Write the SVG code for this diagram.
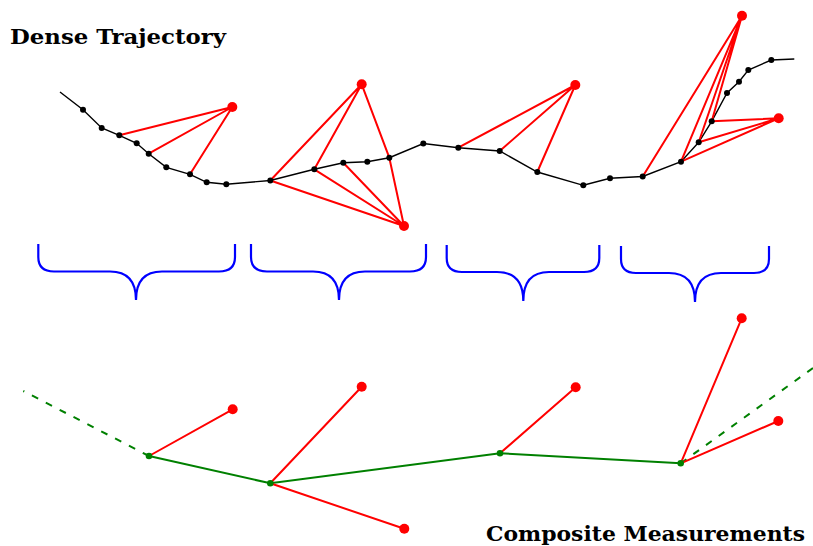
<svg xmlns="http://www.w3.org/2000/svg" width="813" height="546" viewBox="0 0 813 546">
<style>
.traj{fill:none;stroke:#000;stroke-width:1.4}
.red{stroke:#ff0000;stroke-width:2;fill:none}
.grn{stroke:#008000;stroke-width:2;fill:none}
.dash{stroke:#008000;stroke-width:2;fill:none;stroke-dasharray:7 8.6}
.brace{stroke:#0000ff;stroke-width:2.2;fill:none}
.bd{fill:#000}
.rd{fill:#ff0000}
.gd{fill:#008000}
.lbl{font-family:"DejaVu Serif","Liberation Serif",serif;font-weight:bold;font-size:20px;fill:#000}
</style>
<rect width="813" height="546" fill="#fff"/>
<text class="lbl" x="10" y="44" textLength="216" lengthAdjust="spacingAndGlyphs">Dense Trajectory</text>
<text class="lbl" x="486" y="541" textLength="319" lengthAdjust="spacingAndGlyphs">Composite Measurements</text>
<g id="connectors">
<polyline class="traj" points="60,92 83,109.7 101.7,128 119.3,135.3 136.7,143.3 148.7,153.7 166.3,167.3 190,174.3 206.7,182.3 226.3,184.3 270.3,180.5 314.3,169.3 343.3,162.7 367.3,161.7 389.3,157.7 423.3,143.5 458.3,147.7 499.7,151 537.3,172 583.3,185.3 610,178.3 642.7,176.5 681,161.7 698.7,142.3 711.7,121.3 727,93 739,81.7 748.3,70 771.3,60 794.3,59"/>
<path class="red" d="M232.3,107 L119.3,135.3 M232.3,107 L148.7,153.7 M232.3,107 L190,174.3"/>
<path class="red" d="M361.7,84.3 L270.3,180.5 M361.7,84.3 L314.3,169.3 M361.7,84.3 L389.3,157.7 M404,226 L270.3,180.5 M404,226 L314.3,169.3 M404,226 L343.3,162.7 M404,226 L389.3,157.7"/>
<path class="red" d="M575.3,85 L458.3,147.7 M575.3,85 L499.7,151 M575.3,85 L537.3,172"/>
<path class="red" d="M742,15.7 L642.7,176.5 M742,15.7 L681,161.7 M742,15.7 L698.7,142.3 M742,15.7 L711.7,121.3 M778.7,118.3 L681,161.7 M778.7,118.3 L698.7,142.3 M778.7,118.3 L711.7,121.3"/>
<path class="brace" d="M38.3,244 V257 Q38.3,271.5 54,271.5 H110 C127,271.5 136,280 136,300 C136,280 145,271.5 162,271.5 H219 Q235,271.5 235,257 V244"/>
<path class="brace" d="M251,244 V257 Q251,271.5 267,271.5 H313 C330,271.5 339,280 339,300 C339,280 348,271.5 365,271.5 H410 Q426,271.5 426,257 V244"/>
<path class="brace" d="M446.7,245 V258 Q446.7,272 462,272 H497 C514,272 523.3,281 523.3,301 C523.3,281 532,272 549,272 H584 Q599.3,272 599.3,258 V245"/>
<path class="brace" d="M621,246 V259 Q621,273 636,273 H669 C686,273 695,282 695,302 C695,282 704,273 721,273 H754 Q769,273 769,259 V246"/>
<path class="dash" d="M149,456 L23.3,391"/>
<path class="dash" d="M680.7,463.3 L813,368"/>
<polyline class="grn" points="149,456 270.3,483.3 500,453.3 680.7,463.3"/>
<path class="red" d="M149,456 L232.7,409.3 M270.3,483.3 L361.7,386.7 M270.3,483.3 L404.3,528.7 M500,453.3 L575.7,387.3 M680.7,463.3 L741.7,318.3 M680.7,463.3 L778.3,421"/>
</g>
<g id="traj-points">
<circle class="bd" cx="83" cy="109.7" r="3"/>
<circle class="bd" cx="101.7" cy="128" r="3"/>
<circle class="bd" cx="119.3" cy="135.3" r="3"/>
<circle class="bd" cx="136.7" cy="143.3" r="3"/>
<circle class="bd" cx="148.7" cy="153.7" r="3"/>
<circle class="bd" cx="166.3" cy="167.3" r="3"/>
<circle class="bd" cx="190" cy="174.3" r="3"/>
<circle class="bd" cx="206.7" cy="182.3" r="3"/>
<circle class="bd" cx="226.3" cy="184.3" r="3"/>
<circle class="bd" cx="270.3" cy="180.5" r="3"/>
<circle class="bd" cx="314.3" cy="169.3" r="3"/>
<circle class="bd" cx="343.3" cy="162.7" r="3"/>
<circle class="bd" cx="367.3" cy="161.7" r="3"/>
<circle class="bd" cx="389.3" cy="157.7" r="3"/>
<circle class="bd" cx="423.3" cy="143.5" r="3"/>
<circle class="bd" cx="458.3" cy="147.7" r="3"/>
<circle class="bd" cx="499.7" cy="151" r="3"/>
<circle class="bd" cx="537.3" cy="172" r="3"/>
<circle class="bd" cx="583.3" cy="185.3" r="3"/>
<circle class="bd" cx="610" cy="178.3" r="3"/>
<circle class="bd" cx="642.7" cy="176.5" r="3"/>
<circle class="bd" cx="681" cy="161.7" r="3"/>
<circle class="bd" cx="698.7" cy="142.3" r="3"/>
<circle class="bd" cx="711.7" cy="121.3" r="3"/>
<circle class="bd" cx="727" cy="93" r="3"/>
<circle class="bd" cx="739" cy="81.7" r="3"/>
<circle class="bd" cx="748.3" cy="70" r="3"/>
<circle class="bd" cx="771.3" cy="60" r="3"/>
</g>
<g id="meas-top">
<circle class="rd" cx="232.3" cy="107" r="5"/>
<circle class="rd" cx="361.7" cy="84.3" r="5"/>
<circle class="rd" cx="404" cy="226" r="5"/>
<circle class="rd" cx="575.3" cy="85" r="5"/>
<circle class="rd" cx="742" cy="15.7" r="5"/>
<circle class="rd" cx="778.7" cy="118.3" r="5"/>
</g>
<g id="composite-nodes">
<circle class="gd" cx="149" cy="456" r="3.3"/>
<circle class="gd" cx="270.3" cy="483.3" r="3.3"/>
<circle class="gd" cx="500" cy="453.3" r="3.3"/>
<circle class="gd" cx="680.7" cy="463.3" r="3.3"/>
</g>
<g id="meas-bottom">
<circle class="rd" cx="232.7" cy="409.3" r="5"/>
<circle class="rd" cx="361.7" cy="386.7" r="5"/>
<circle class="rd" cx="404.3" cy="528.7" r="5"/>
<circle class="rd" cx="575.7" cy="387.3" r="5"/>
<circle class="rd" cx="741.7" cy="318.3" r="5"/>
<circle class="rd" cx="778.3" cy="421" r="5"/>
</g>
</svg>
